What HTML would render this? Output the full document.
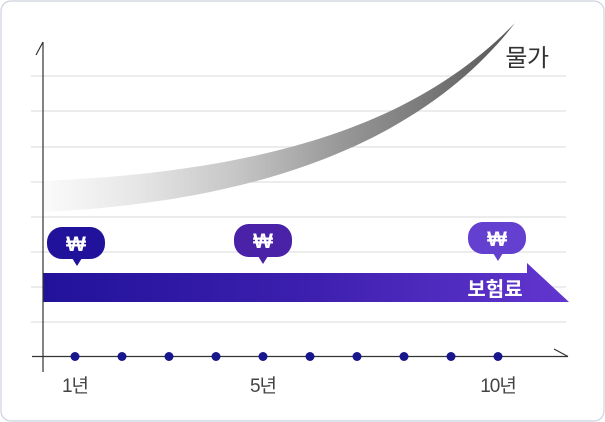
<!DOCTYPE html>
<html>
<head>
<meta charset="utf-8">
<style>
  html,body{margin:0;padding:0;background:#fff;}
  body{width:605px;height:422px;overflow:hidden;}
  svg{display:block;}
  text{font-family:"Liberation Sans","Noto Sans CJK KR","NanumGothic",sans-serif;}
</style>
</head>
<body>
<svg width="605" height="422" viewBox="0 0 605 422" xmlns="http://www.w3.org/2000/svg">
  <defs>
    <linearGradient id="curveG" gradientUnits="userSpaceOnUse" x1="43" y1="0" x2="515" y2="0">
      <stop offset="0" stop-color="#fbfbfb"/>
      <stop offset="0.2" stop-color="#e6e6e6"/>
      <stop offset="0.42" stop-color="#c4c4c4"/>
      <stop offset="0.63" stop-color="#989898"/>
      <stop offset="0.82" stop-color="#787878"/>
      <stop offset="1" stop-color="#555"/>
    </linearGradient>
    <linearGradient id="barG" gradientUnits="userSpaceOnUse" x1="43" y1="0" x2="569" y2="0">
      <stop offset="0" stop-color="#22129a"/>
      <stop offset="0.5" stop-color="#3c1fae"/>
      <stop offset="1" stop-color="#6236cf"/>
    </linearGradient>
  </defs>

  <!-- card -->
  <rect x="1" y="1" width="603" height="420" rx="10" ry="10" fill="#fff" stroke="#cdd1dc" stroke-width="1.2"/>

  <!-- grid lines -->
  <g stroke="#e0e0e0" stroke-width="1.2">
    <line x1="31" y1="76" x2="566" y2="76"/>
    <line x1="31" y1="111" x2="566" y2="111"/>
    <line x1="31" y1="147" x2="566" y2="147"/>
    <line x1="31" y1="182" x2="566" y2="182"/>
    <line x1="31" y1="217" x2="566" y2="217"/>
    <line x1="31" y1="252" x2="566" y2="252"/>
    <line x1="31" y1="287" x2="566" y2="287"/>
    <line x1="31" y1="322" x2="566" y2="322"/>
  </g>

  <!-- price curve band -->
  <path d="M43,181 C300,170 430,110 515,23 C440,120 300,200 43,212 Z" fill="url(#curveG)"/>

  <!-- premium bar -->
  <path d="M43,273 L527,273 L527,263 L569,302 L43,302 Z" fill="url(#barG)"/>
  <text x="495" y="296" font-size="20" font-weight="bold" fill="#fff" text-anchor="middle">보험료</text>

  <!-- bubbles -->
  <g>
    <rect x="47" y="227" width="58" height="32" rx="15" fill="#20129a"/>
    <path d="M72,258 L77,266 L82,258 Z" fill="#20129a"/>
    <text x="76" y="251" font-size="21" font-weight="bold" fill="#fff" text-anchor="middle">₩</text>
  </g>
  <g>
    <rect x="234" y="224" width="58" height="33" rx="15" fill="#4a22a8"/>
    <path d="M258,256 L263,264 L268,256 Z" fill="#4a22a8"/>
    <text x="263" y="248" font-size="21" font-weight="bold" fill="#fff" text-anchor="middle">₩</text>
  </g>
  <g>
    <rect x="468" y="222" width="58" height="32" rx="15" fill="#6440d0"/>
    <path d="M493,253 L498,261 L503,253 Z" fill="#6440d0"/>
    <text x="497" y="246" font-size="21" font-weight="bold" fill="#fff" text-anchor="middle">₩</text>
  </g>

  <!-- axes -->
  <g stroke="#333" stroke-width="1.2" fill="none">
    <line x1="43" y1="42" x2="43" y2="372"/>
    <line x1="36" y1="55" x2="43" y2="42"/>
    <line x1="32" y1="356.5" x2="568" y2="356.5"/>
    <line x1="554" y1="349" x2="568" y2="356.5"/>
  </g>

  <!-- dots -->
  <g fill="#17168c">
    <circle cx="75" cy="356.5" r="4.5"/>
    <circle cx="122" cy="356.5" r="4.5"/>
    <circle cx="169" cy="356.5" r="4.5"/>
    <circle cx="216" cy="356.5" r="4.5"/>
    <circle cx="263" cy="356.5" r="4.5"/>
    <circle cx="310" cy="356.5" r="4.5"/>
    <circle cx="357" cy="356.5" r="4.5"/>
    <circle cx="404" cy="356.5" r="4.5"/>
    <circle cx="451" cy="356.5" r="4.5"/>
    <circle cx="498" cy="356.5" r="4.5"/>
  </g>

  <!-- labels -->
  <g font-size="19" fill="#444" text-anchor="middle" letter-spacing="-1">
    <text x="75" y="392">1년</text>
    <text x="263" y="392">5년</text>
    <text x="498" y="392">10년</text>
  </g>
  <text x="527" y="66" font-size="24" fill="#333" text-anchor="middle" letter-spacing="-0.5">물가</text>
</svg>
</body>
</html>
